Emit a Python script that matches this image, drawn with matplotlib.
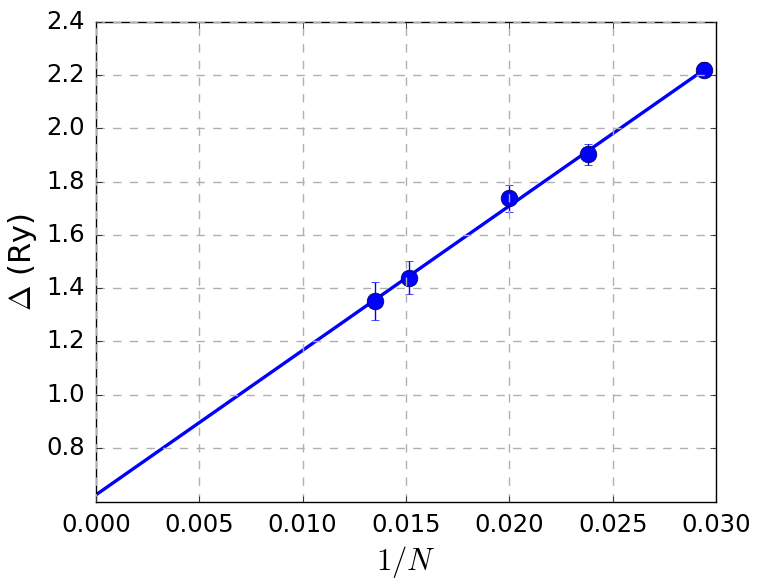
import numpy as np
import matplotlib
matplotlib.use('Agg')
import matplotlib.pyplot as plt

plt.style.use('classic')

# measured gaps vs 1/N
N = [74, 66, 50, 42, 34]
gap = [1.352, 1.440, 1.738, 1.903, 2.220]
gap_err = [0.073, 0.063, 0.050, 0.039, 0.028]

# linear extrapolation line
fit_x = [0.0, 0.02941]
fit_y = [0.624, 2.220]

invN = 1.0 / np.array(N)

fig = plt.figure(figsize=(7.61, 5.84), dpi=100)
fig.patch.set_facecolor('white')
ax = fig.add_axes([96/761., 1-502/584., (716-96)/761., (502-22)/584.])

ax.plot(fit_x, fit_y, '-', color='blue', lw=2.4)
ax.errorbar(invN, gap, yerr=gap_err, fmt='o', color='blue', ecolor='blue',
            markersize=12, capsize=3, elinewidth=1, mec='#000040')

ax.set_xlim(0, 0.03)
ax.set_ylim(0.597, 2.4)
ax.set_yticks([0.8, 1.0, 1.2, 1.4, 1.6, 1.8, 2.0, 2.2, 2.4])
ax.set_xticks([0.0, 0.005, 0.01, 0.015, 0.02, 0.025, 0.03])
ax.xaxis.set_major_formatter(matplotlib.ticker.FormatStrFormatter('%.3f'))
ax.yaxis.set_major_formatter(matplotlib.ticker.FormatStrFormatter('%.1f'))
ax.tick_params(labelsize=17.5, pad=8)
ax.grid(True, ls='--', color='#b0b0b0', lw=1)

ax.set_xlabel(r'$1/N$', fontsize=22)
ax.set_ylabel(r'$\Delta$ (Ry)', fontsize=22)

fig.savefig('out.png', dpi=100, facecolor='white')
